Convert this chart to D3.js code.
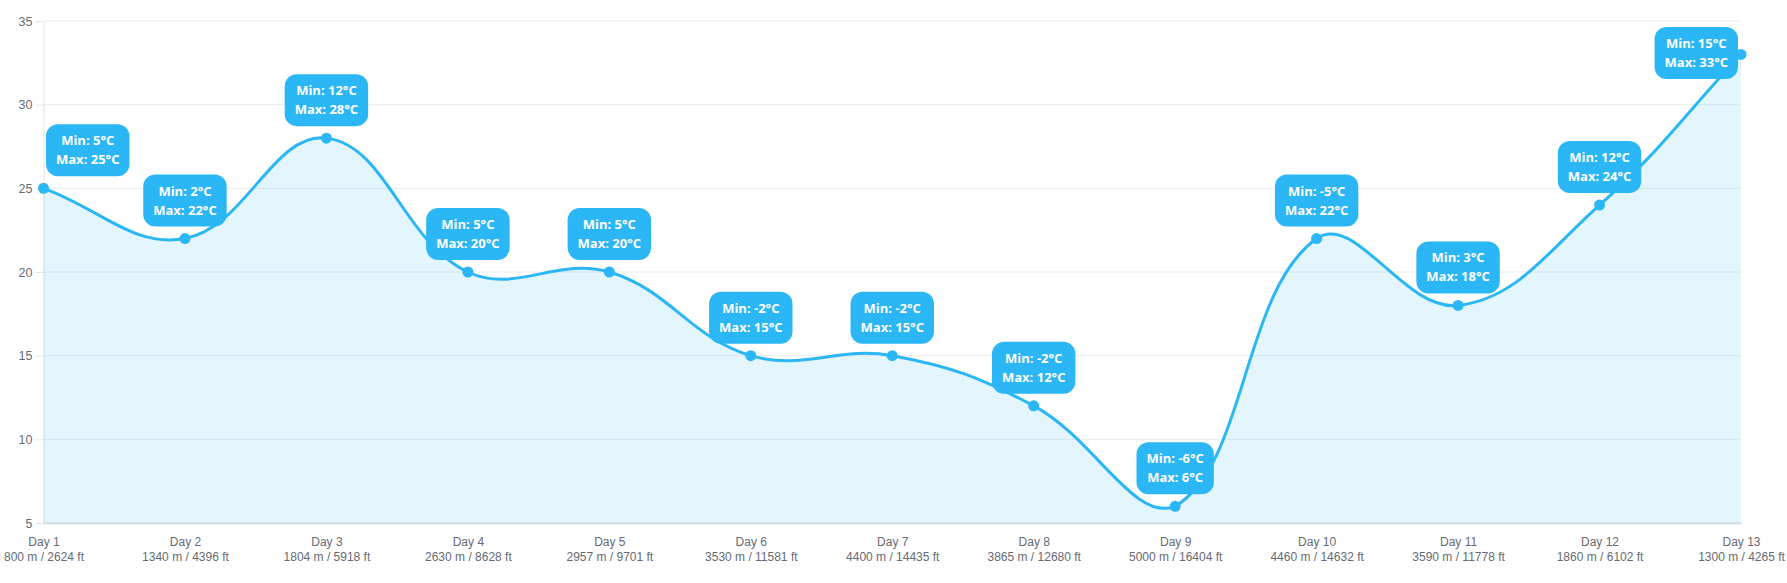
<!DOCTYPE html>
<html>
<head>
<meta charset="utf-8">
<script src="https://cdn.jsdelivr.net/npm/d3@7"></script>
<style>
  body { margin: 0; background: #fff; }
  .grid line { stroke: #ececec; stroke-width: 1; }
  .yAxis .domain { stroke: #e2e2e2; }
  .yAxis .tick line { stroke: #e6e6e6; }
  .yAxis text, .xAxis text { fill: #666a73; font-family: "Liberation Sans", Arial, sans-serif; font-size: 12px; }
  .yAxis text { font-size: 12.5px; }
  .xAxis .domain { stroke: #cfd6de; stroke-width: 1.5; }
  .badge text { fill: #fff; font-family: "Open Sans", "Noto Sans", sans-serif; font-weight: 700; font-size: 13px; }
</style>
</head>
<body>
<div class="container"></div>
<script>
var days = ['Day 1', 'Day 2', 'Day 3', 'Day 4', 'Day 5', 'Day 6', 'Day 7', 'Day 8', 'Day 9', 'Day 10', 'Day 11', 'Day 12', 'Day 13'];
var altitudes = ['800 m / 2624 ft', '1340 m / 4396 ft', '1804 m / 5918 ft', '2630 m / 8628 ft', '2957 m / 9701 ft',
  '3530 m / 11581 ft', '4400 m / 14435 ft', '3865 m / 12680 ft', '5000 m / 16404 ft', '4460 m / 14632 ft',
  '3590 m / 11778 ft', '1860 m / 6102 ft', '1300 m / 4265 ft'];
var maxTemps = [25, 22, 28, 20, 20, 15, 15, 12, 6, 22, 18, 24, 33];
var minTemps = [5, 2, 12, 5, 5, -2, -2, -2, -6, -5, 3, 12, 15];
var yTicks = [5, 10, 15, 20, 25, 30, 35];

const WIDTH = 1787;
const HEIGHT = 583;
const LEFT = 43.5;
const RIGHT = 1741;
const TOP = 21;
const BOTTOM = 523;
const BLUE = '#2bb6f5';

var translate = function(x, y){
  return "translate(" + x + "," + y + ")";
};

// spline like the one chart.js draws with tension 0.4 (control points kept inside the plot)
var splineCurve = function(context){
  var t = 0.4;
  var cap = function(v, lo, hi){ return Math.max(lo, Math.min(hi, v)); };
  return {
    areaStart: function(){ this._line = 0; },
    areaEnd: function(){ this._line = NaN; },
    lineStart: function(){ this._x = []; this._y = []; },
    point: function(x, y){ this._x.push(+x); this._y.push(+y); },
    lineEnd: function(){
      var xs = this._x, ys = this._y, n = xs.length;
      if (n) {
        if (this._line) context.lineTo(xs[0], ys[0]); else context.moveTo(xs[0], ys[0]);
        var cps = [];
        for (var i = 0; i < n; i++) {
          var pi = i > 0 ? i - 1 : i, ni = i < n - 1 ? i + 1 : i;
          var d01 = Math.hypot(xs[i] - xs[pi], ys[i] - ys[pi]);
          var d12 = Math.hypot(xs[ni] - xs[i], ys[ni] - ys[i]);
          var s01 = d01 / (d01 + d12) || 0, s12 = d12 / (d01 + d12) || 0;
          var dx = xs[ni] - xs[pi], dy = ys[ni] - ys[pi];
          cps.push({
            px: cap(xs[i] - t * s01 * dx, LEFT, RIGHT), py: cap(ys[i] - t * s01 * dy, TOP, BOTTOM),
            nx: cap(xs[i] + t * s12 * dx, LEFT, RIGHT), ny: cap(ys[i] + t * s12 * dy, TOP, BOTTOM)
          });
        }
        for (var j = 1; j < n; j++) {
          context.bezierCurveTo(cps[j - 1].nx, cps[j - 1].ny, cps[j].px, cps[j].py, xs[j], ys[j]);
        }
      }
      if (this._line || (this._line !== 0 && n === 1)) context.closePath();
      this._line = 1 - this._line;
    }
  };
};

var svg = d3.select('.container').append('svg')
  .attr('width', WIDTH)
  .attr('height', HEIGHT);

var xScale = d3.scalePoint()
  .domain(days)
  .range([LEFT, RIGHT]);

var yScale = d3.scaleLinear()
  .domain([5, 35])
  .range([BOTTOM, TOP]);

// horizontal grid
svg.append('g').classed('grid', true)
  .selectAll('line').data(yTicks)
  .enter().append('line')
  .attr('x1', LEFT).attr('x2', RIGHT)
  .attr('y1', function(d){ return yScale(d); })
  .attr('y2', function(d){ return yScale(d); });

svg.append('g')
  .attr('transform', translate(LEFT, 0))
  .classed('yAxis', true)
  .call(d3.axisLeft(yScale).tickValues(yTicks).tickSize(8).tickPadding(3).tickSizeOuter(0));

var points = days.map(function(d, i){ return {day: d, max: maxTemps[i], min: minTemps[i]}; });

var area = d3.area()
  .x(function(p){ return xScale(p.day); })
  .y0(BOTTOM)
  .y1(function(p){ return yScale(p.max); })
  .curve(splineCurve);

var line = d3.line()
  .x(function(p){ return xScale(p.day); })
  .y(function(p){ return yScale(p.max); })
  .curve(splineCurve);

svg.append('path')
  .attr('d', area(points))
  .attr('fill', 'rgba(41,182,246,0.13)');

var xAxis = svg.append('g')
  .attr('transform', translate(0, BOTTOM))
  .classed('xAxis', true)
  .call(d3.axisBottom(xScale).tickSize(0).tickSizeOuter(0).tickFormat(''));

xAxis.selectAll('.tick').each(function(d, i){
  var t = d3.select(this).append('text').attr('text-anchor', 'middle');
  t.append('tspan').attr('x', 0).attr('y', 23).text(d);
  t.append('tspan').attr('x', 0).attr('y', 37.5).text(altitudes[i]);
});

svg.append('path')
  .attr('d', line(points))
  .attr('fill', 'none')
  .attr('stroke', BLUE)
  .attr('stroke-width', 3);

svg.selectAll('circle.pt').data(points)
  .enter().append('circle')
  .classed('pt', true)
  .attr('cx', function(p){ return xScale(p.day); })
  .attr('cy', function(p){ return yScale(p.max); })
  .attr('r', 5.5)
  .attr('fill', BLUE);

// value badges above each point
var badges = svg.selectAll('g.badge').data(points)
  .enter().append('g').classed('badge', true);

badges.each(function(p){
  var g = d3.select(this);
  var t1 = g.append('text').attr('text-anchor', 'middle').text('Min: ' + p.min + '°C');
  var t2 = g.append('text').attr('text-anchor', 'middle').text('Max: ' + p.max + '°C');
  var w = Math.max(t1.node().getComputedTextLength(), t2.node().getComputedTextLength()) + 20;
  var h = 52;
  var cx = xScale(p.day), cy = yScale(p.max);
  var left = Math.min(Math.max(cx - w / 2, LEFT + 2.5), RIGHT - 3 - w);
  var top = Math.max(cy - 12 - h, 27);
  g.insert('rect', 'text')
    .attr('x', left).attr('y', top)
    .attr('width', w).attr('height', h)
    .attr('rx', 12)
    .attr('fill', BLUE);
  t1.attr('x', left + w / 2).attr('y', top + 21);
  t2.attr('x', left + w / 2).attr('y', top + 40);
});
</script>
</body>
</html>
